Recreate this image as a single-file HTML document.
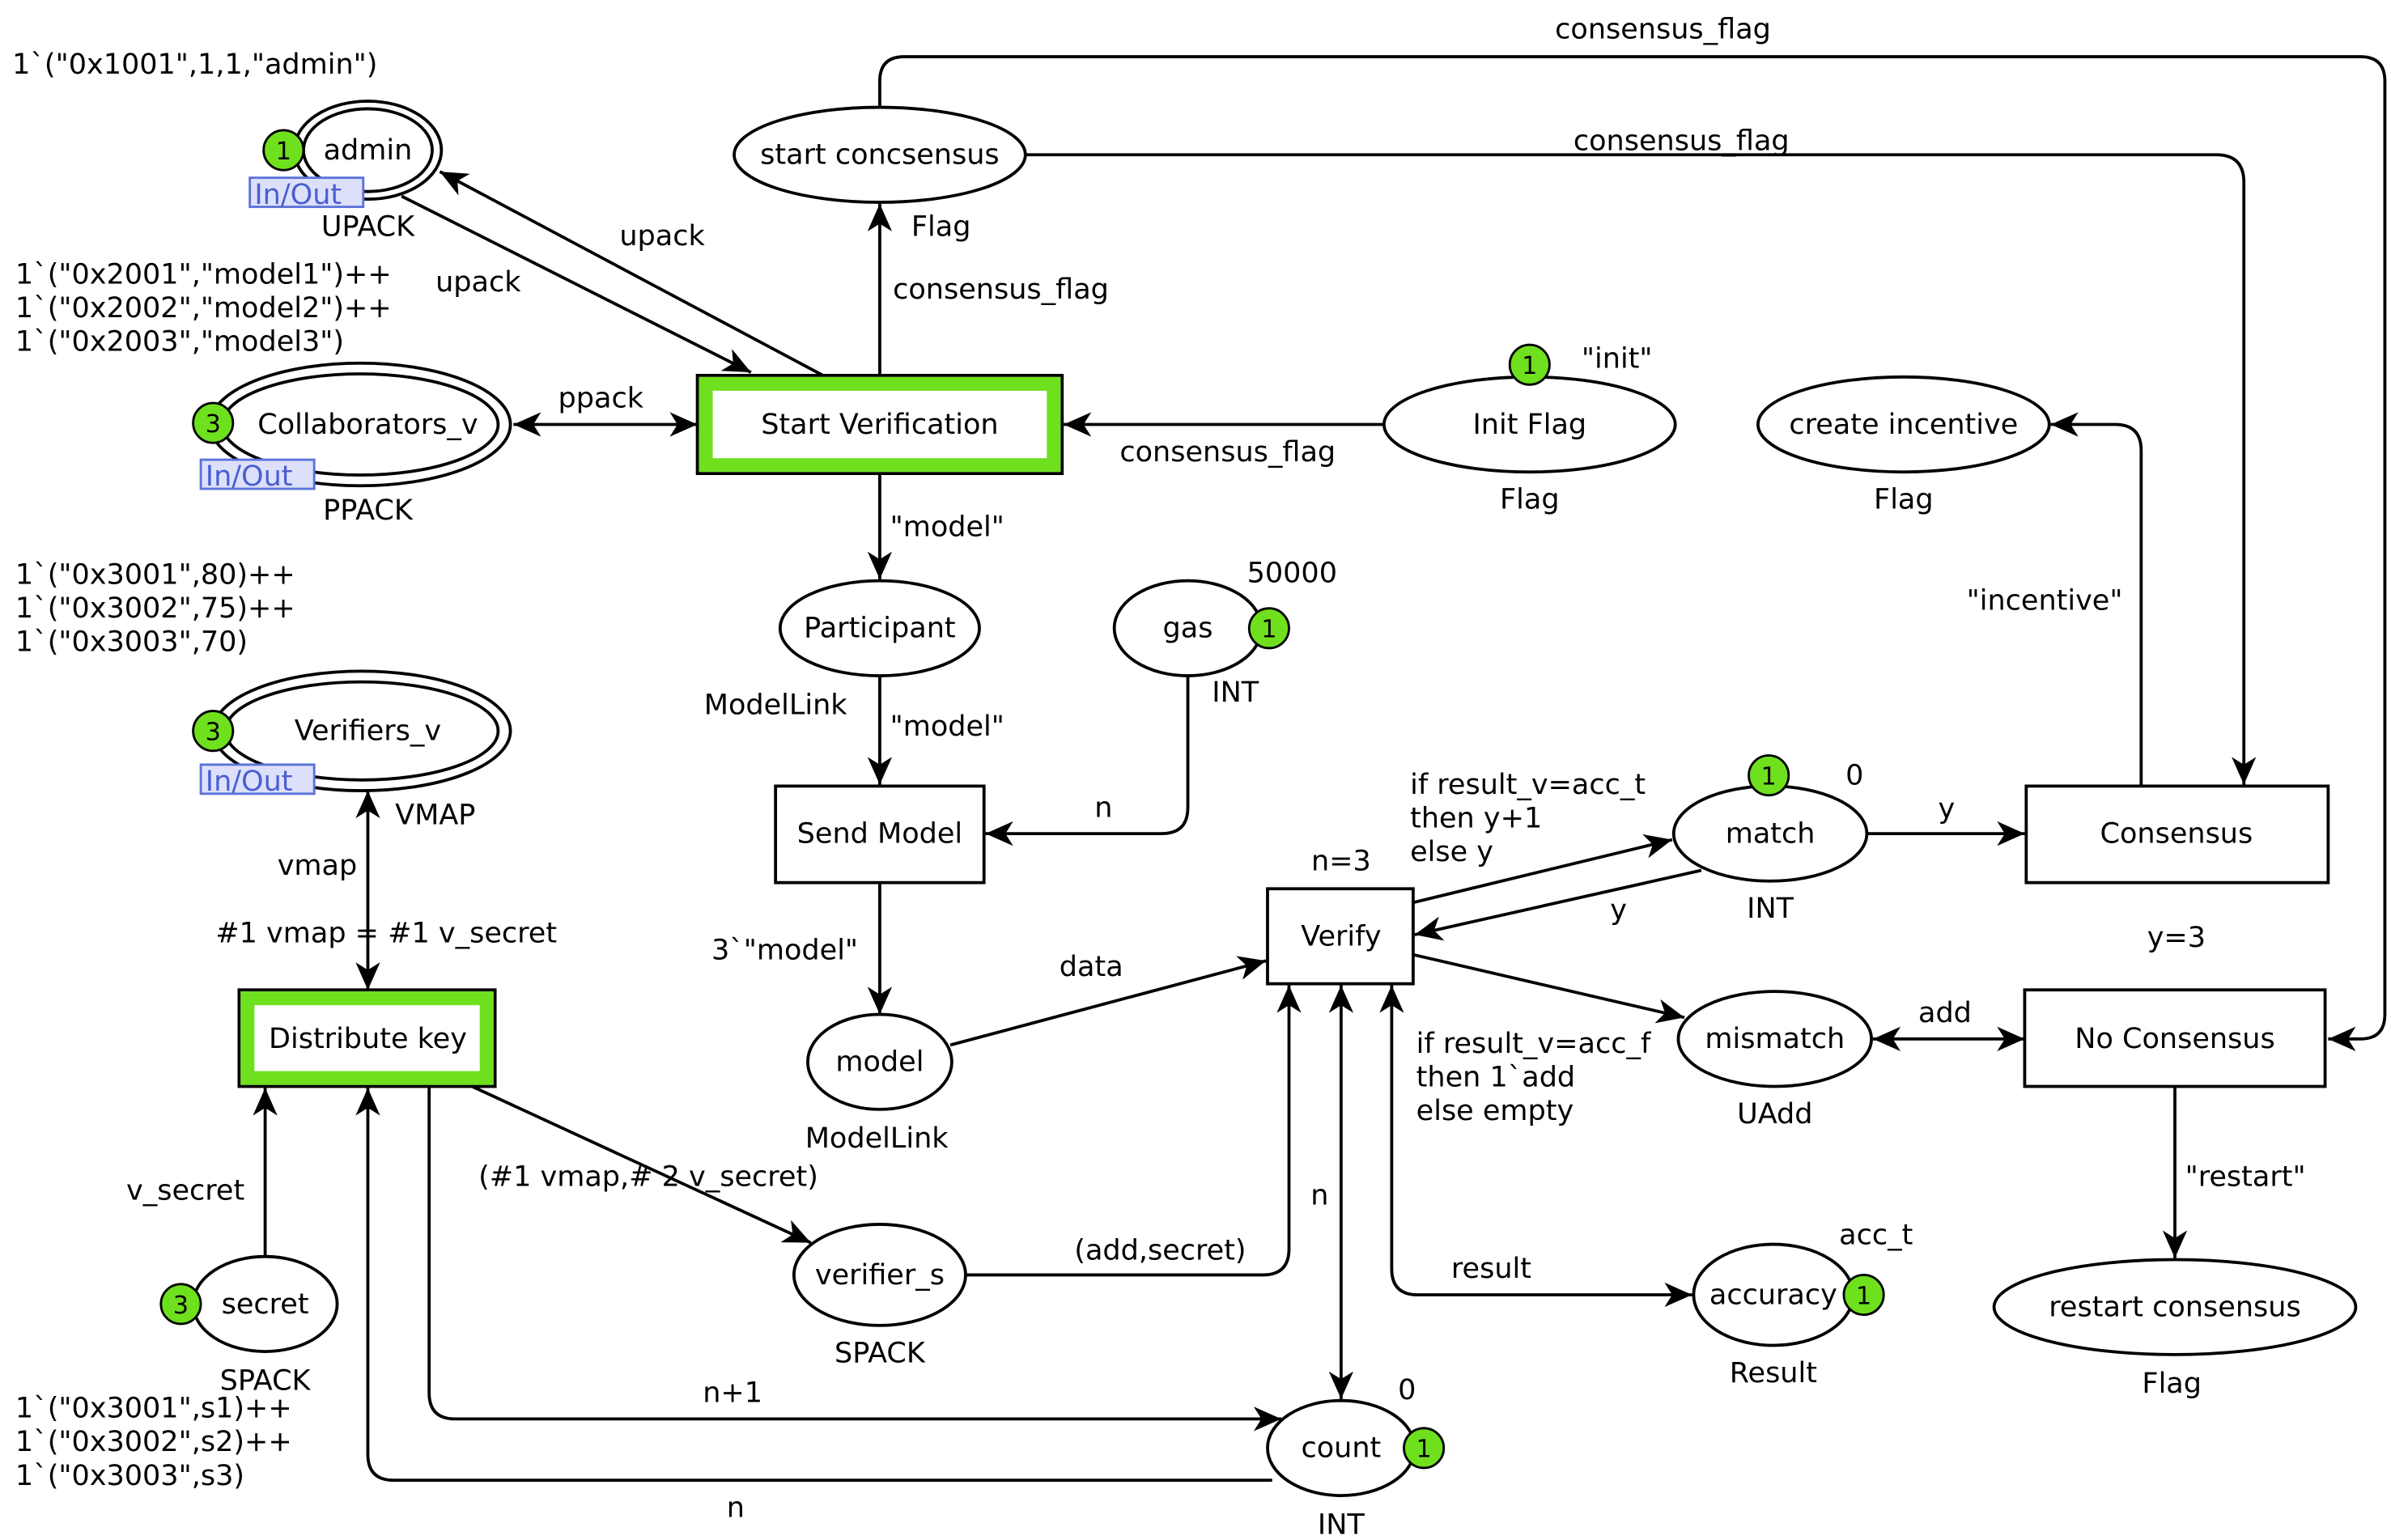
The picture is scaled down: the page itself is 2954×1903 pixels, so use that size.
<!DOCTYPE html>
<html><head><meta charset="utf-8"><style>
html,body{margin:0;padding:0;background:#fff}
svg{display:block}
text{font-family:"DejaVu Sans","Liberation Sans",sans-serif;font-size:18.5px;fill:#000}
.c{text-anchor:middle}
.io{font-size:18.5px;fill:#4a5fd0}
.tk{font-size:16px;text-anchor:middle}
</style></head><body>
<svg width="2954" height="1903" viewBox="0 0 1560 1005" preserveAspectRatio="none" xmlns="http://www.w3.org/2000/svg">
<defs>
<marker id="a" markerUnits="userSpaceOnUse" markerWidth="24" markerHeight="20" refX="20" refY="10" orient="auto-start-reverse" viewBox="0 0 24 20">
<path d="M20,10 L2,2 L7,10 L2,18 Z" fill="#000"/></marker>
</defs>
<g fill="none" stroke="#000" stroke-width="2">
<ellipse cx="240" cy="98" rx="48" ry="32"/><ellipse cx="240" cy="98" rx="42" ry="27"/>
<ellipse cx="235" cy="277" rx="98" ry="40"/><ellipse cx="235" cy="277" rx="90" ry="33"/>
<ellipse cx="236" cy="477" rx="97" ry="39"/><ellipse cx="236" cy="477" rx="89" ry="32"/>
<ellipse cx="574" cy="101" rx="95" ry="31"/>
<ellipse cx="998" cy="277" rx="95" ry="31"/>
<ellipse cx="1242" cy="277" rx="95" ry="31"/>
<ellipse cx="574" cy="410" rx="65" ry="31"/>
<ellipse cx="775" cy="410" rx="48" ry="31"/>
<ellipse cx="574" cy="693" rx="47" ry="31"/>
<ellipse cx="1155" cy="544" rx="63" ry="31"/>
<ellipse cx="1158" cy="678" rx="63" ry="31"/>
<ellipse cx="1419" cy="853" rx="118" ry="31"/>
<ellipse cx="1157" cy="845" rx="52" ry="33"/>
<ellipse cx="875" cy="945" rx="48" ry="31"/>
<ellipse cx="574" cy="832" rx="56" ry="33"/>
<ellipse cx="173" cy="851" rx="47" ry="31"/>
<rect x="506" y="513" width="136" height="63"/>
<rect x="827" y="580" width="95" height="62"/>
<rect x="1322" y="513" width="197" height="63"/>
<rect x="1321" y="646" width="196" height="63"/>
<rect x="455" y="245" width="238" height="64"/>
<rect x="156" y="646" width="167" height="63"/>
</g>
<rect x="460.5" y="250.5" width="227" height="53" fill="none" stroke="#6fe01e" stroke-width="9"/>
<rect x="161.5" y="651.5" width="156" height="52" fill="none" stroke="#6fe01e" stroke-width="9"/>
<g fill="none" stroke="#000" stroke-width="2">
<line x1="262" y1="128" x2="490" y2="243" marker-end="url(#a)"/>
<line x1="537" y1="245" x2="287" y2="112" marker-end="url(#a)"/>
<line x1="335" y1="277" x2="455" y2="277" marker-start="url(#a)" marker-end="url(#a)"/>
<line x1="574" y1="245" x2="574" y2="133" marker-end="url(#a)"/>
<path d="M669,101 H1446 Q1464,101 1464,119 V512" marker-end="url(#a)"/>
<path d="M574,70 V53 Q574,37 590,37 H1540 Q1556,37 1556,53 V662 Q1556,678 1540,678 H1519" marker-end="url(#a)"/>
<line x1="903" y1="277" x2="694" y2="277" marker-end="url(#a)"/>
<path d="M1397,513 V294 Q1397,277 1380,277 H1338" marker-end="url(#a)"/>
<line x1="574" y1="309" x2="574" y2="378" marker-end="url(#a)"/>
<line x1="574" y1="441" x2="574" y2="512" marker-end="url(#a)"/>
<path d="M775,441 V527 Q775,544 758,544 H643" marker-end="url(#a)"/>
<line x1="574" y1="576" x2="574" y2="662" marker-end="url(#a)"/>
<line x1="620" y1="682" x2="826" y2="627" marker-end="url(#a)"/>
<line x1="922" y1="589" x2="1091" y2="548" marker-end="url(#a)"/>
<line x1="1110" y1="568" x2="923" y2="610" marker-end="url(#a)"/>
<line x1="1218" y1="544" x2="1321" y2="544" marker-end="url(#a)"/>
<line x1="922" y1="623" x2="1099" y2="664" marker-end="url(#a)"/>
<line x1="1222" y1="678" x2="1321" y2="678" marker-start="url(#a)" marker-end="url(#a)"/>
<line x1="1419" y1="709" x2="1419" y2="821" marker-end="url(#a)"/>
<path d="M908,643 V828 Q908,845 925,845 H1104" marker-start="url(#a)" marker-end="url(#a)"/>
<line x1="875" y1="643" x2="875" y2="913" marker-start="url(#a)" marker-end="url(#a)"/>
<path d="M630,832 H824 Q841,832 841,815 V643" marker-end="url(#a)"/>
<line x1="308" y1="709" x2="529" y2="811" marker-end="url(#a)"/>
<path d="M280,709 V909 Q280,926 297,926 H836" marker-end="url(#a)"/>
<path d="M830,966 H257 Q240,966 240,949 V710" marker-end="url(#a)"/>
<line x1="240" y1="516" x2="240" y2="646" marker-start="url(#a)" marker-end="url(#a)"/>
<line x1="173" y1="820" x2="173" y2="710" marker-end="url(#a)"/>
</g>
<g fill="#6fe01e" stroke="#000" stroke-width="1.5">
<circle cx="185" cy="98" r="13"/><circle cx="139" cy="276" r="13"/><circle cx="139" cy="477" r="13"/>
<circle cx="998" cy="238" r="13"/><circle cx="828" cy="410" r="13"/><circle cx="1154" cy="506" r="13"/>
<circle cx="1216" cy="845" r="13"/><circle cx="929" cy="945" r="13"/><circle cx="118" cy="851" r="13"/>
</g>
<g>
<text x="185" y="104" class="tk">1</text><text x="139" y="282" class="tk">3</text><text x="139" y="483" class="tk">3</text>
<text x="998" y="244" class="tk">1</text><text x="828" y="416" class="tk">1</text><text x="1154" y="512" class="tk">1</text>
<text x="1216" y="851" class="tk">1</text><text x="929" y="951" class="tk">1</text><text x="118" y="857" class="tk">3</text>
</g>
<g fill="#dde0fb" stroke="#5b72d8" stroke-width="1.5">
<rect x="163" y="116" width="74" height="19"/><rect x="131" y="300" width="74" height="19"/><rect x="131" y="499" width="74" height="19"/>
</g>
<text x="166" y="133" class="io">In/Out</text><text x="134" y="317" class="io">In/Out</text><text x="134" y="516" class="io">In/Out</text>
<g>
<text x="240" y="104" class="c">admin</text>
<text x="240" y="283" class="c">Collaborators_v</text>
<text x="240" y="483" class="c">Verifiers_v</text>
<text x="574" y="107" class="c">start concsensus</text>
<text x="574" y="283" class="c">Start Verification</text>
<text x="998" y="283" class="c">Init Flag</text>
<text x="1242" y="283" class="c">create incentive</text>
<text x="574" y="416" class="c">Participant</text>
<text x="775" y="416" class="c">gas</text>
<text x="574" y="550" class="c">Send Model</text>
<text x="574" y="699" class="c">model</text>
<text x="875" y="617" class="c">Verify</text>
<text x="1155" y="550" class="c">match</text>
<text x="1420" y="550" class="c">Consensus</text>
<text x="1158" y="684" class="c">mismatch</text>
<text x="1419" y="684" class="c">No Consensus</text>
<text x="1419" y="859" class="c">restart consensus</text>
<text x="1157" y="851" class="c">accuracy</text>
<text x="875" y="951" class="c">count</text>
<text x="574" y="838" class="c">verifier_s</text>
<text x="173" y="857" class="c">secret</text>
<text x="240" y="684" class="c">Distribute key</text>
<text x="240" y="154" class="c">UPACK</text>
<text x="240" y="339" class="c">PPACK</text>
<text x="284" y="538" class="c">VMAP</text>
<text x="614" y="154" class="c">Flag</text>
<text x="998" y="332" class="c">Flag</text>
<text x="1242" y="332" class="c">Flag</text>
<text x="506" y="466" class="c">ModelLink</text>
<text x="806" y="458" class="c">INT</text>
<text x="572" y="749" class="c">ModelLink</text>
<text x="1155" y="599" class="c">INT</text>
<text x="1420" y="618" class="c">y=3</text>
<text x="875" y="568" class="c">n=3</text>
<text x="1158" y="733" class="c">UAdd</text>
<text x="1417" y="909" class="c">Flag</text>
<text x="1157" y="902" class="c">Result</text>
<text x="875" y="1001" class="c">INT</text>
<text x="574" y="889" class="c">SPACK</text>
<text x="173" y="907" class="c">SPACK</text>
<text x="312" y="190" class="c">upack</text>
<text x="432" y="160" class="c">upack</text>
<text x="392" y="266" class="c">ppack</text>
<text x="653" y="195" class="c">consensus_flag</text>
<text x="1097" y="98" class="c">consensus_flag</text>
<text x="1085" y="25" class="c">consensus_flag</text>
<text x="801" y="301" class="c">consensus_flag</text>
<text x="1334" y="398" class="c">"incentive"</text>
<text x="618" y="350" class="c">"model"</text>
<text x="618" y="480" class="c">"model"</text>
<text x="720" y="533" class="c">n</text>
<text x="512" y="626" class="c">3`"model"</text>
<text x="712" y="637" class="c">data</text>
<text x="1056" y="600" class="c">y</text>
<text x="1270" y="534" class="c">y</text>
<text x="1269" y="667" class="c">add</text>
<text x="1465" y="774" class="c">"restart"</text>
<text x="973" y="834" class="c">result</text>
<text x="861" y="786" class="c">n</text>
<text x="757" y="822" class="c">(add,secret)</text>
<text x="423" y="774" class="c">(#1 vmap,# 2 v_secret)</text>
<text x="478" y="915" class="c">n+1</text>
<text x="480" y="990" class="c">n</text>
<text x="207" y="571" class="c">vmap</text>
<text x="252" y="615" class="c">#1 vmap = #1 v_secret</text>
<text x="121" y="783" class="c">v_secret</text>
<text x="1055" y="240" class="c">"init"</text>
<text x="843" y="380" class="c">50000</text>
<text x="1210" y="512" class="c">0</text>
<text x="1224" y="812" class="c">acc_t</text>
<text x="918" y="913" class="c">0</text>
</g>
<text x="920" y="518">if result_v=acc_t</text>
<text x="920" y="540">then y+1</text>
<text x="920" y="562">else y</text>
<text x="924" y="687">if result_v=acc_f</text>
<text x="924" y="709">then 1`add</text>
<text x="924" y="731">else empty</text>
<text x="8" y="48">1`("0x1001",1,1,"admin")</text>
<text x="10" y="185">1`("0x2001","model1")++</text>
<text x="10" y="207">1`("0x2002","model2")++</text>
<text x="10" y="229">1`("0x2003","model3")</text>
<text x="10" y="381">1`("0x3001",80)++</text>
<text x="10" y="403">1`("0x3002",75)++</text>
<text x="10" y="425">1`("0x3003",70)</text>
<text x="10" y="925">1`("0x3001",s1)++</text>
<text x="10" y="947">1`("0x3002",s2)++</text>
<text x="10" y="969">1`("0x3003",s3)</text>
</svg>
</body></html>
